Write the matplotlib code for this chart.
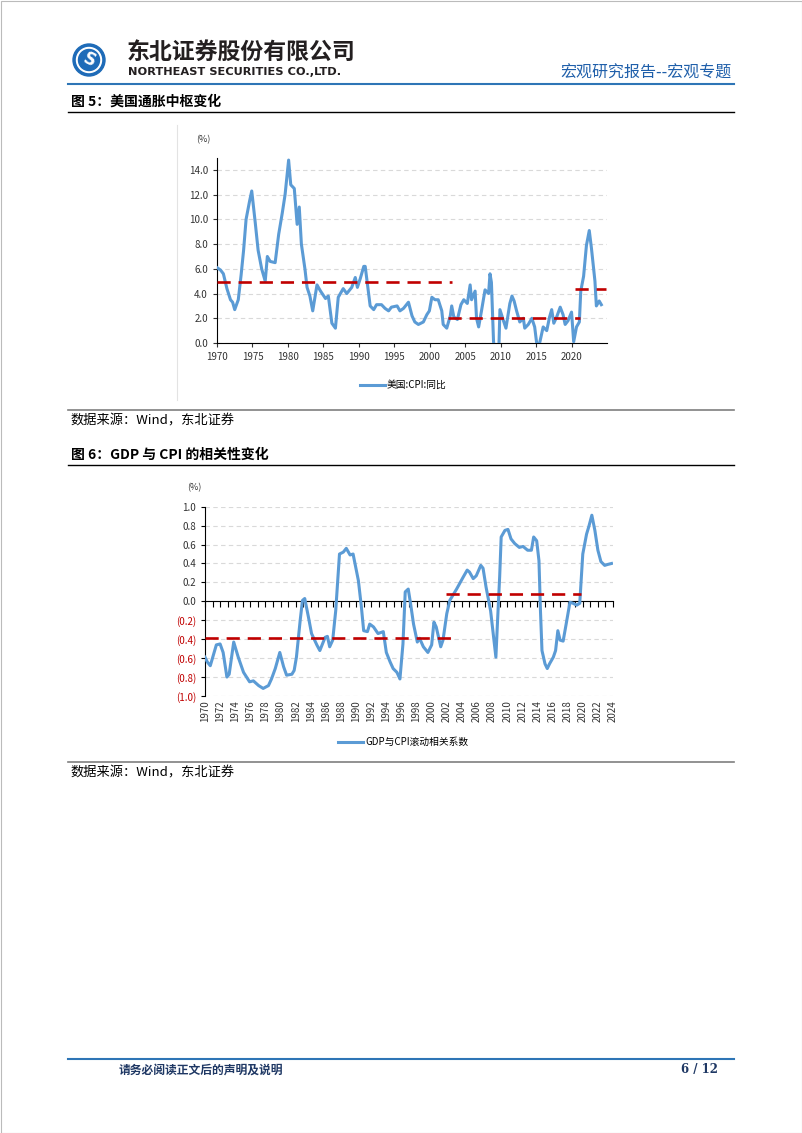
import numpy as np
import matplotlib
matplotlib.use("Agg")
import matplotlib.pyplot as plt
from matplotlib.patches import Circle, Rectangle

plt.rcParams['font.family'] = ['Noto Sans CJK SC', 'DejaVu Sans']

BLUE = '#5B9BD5'
RED = '#C00000'
GRID = '#D9D9D9'

# ---- chart 1: US CPI yoy (%)
cpi_year = [1970.0, 1970.5, 1970.9, 1971.4, 1971.9, 1972.2, 1972.5, 1973.0, 1973.4, 1973.75,
            1974.1, 1974.6, 1974.9, 1975.4, 1975.8, 1976.3, 1976.8, 1977.1, 1977.5, 1978.2,
            1978.7, 1979.2, 1979.6, 1980.1, 1980.4, 1980.9, 1981.3, 1981.6, 1981.9, 1982.2,
            1982.4, 1982.7, 1983.1, 1983.5, 1984.1, 1984.6, 1985.3, 1985.7, 1986.2, 1986.7,
            1987.1, 1987.8, 1988.3, 1989.0, 1989.5, 1989.8, 1990.2, 1990.7, 1990.9, 1991.2,
            1991.6, 1992.1, 1992.5, 1993.2, 1993.7, 1994.2, 1994.6, 1995.4, 1995.8, 1996.3,
            1997.0, 1997.5, 1997.9, 1998.4, 1999.1, 1999.6, 1999.95, 2000.3, 2000.75, 2001.2,
            2001.7, 2001.9, 2002.4, 2002.9, 2003.1, 2003.4, 2003.9, 2004.4, 2004.8, 2005.3,
            2005.7, 2005.9, 2006.4, 2006.6, 2006.9, 2007.3, 2007.8, 2008.3, 2008.5, 2008.7,
            2009.0, 2009.3, 2009.7, 2009.9, 2010.4, 2010.75, 2011.3, 2011.6, 2011.9, 2012.25,
            2012.7, 2013.2, 2013.4, 2013.9, 2014.4, 2014.8, 2015.1, 2015.5, 2016.0, 2016.5,
            2016.9, 2017.2, 2017.5, 2017.9, 2018.4, 2018.8, 2019.1, 2019.5, 2020.0, 2020.3,
            2020.7, 2021.1, 2021.3, 2021.7, 2022.1, 2022.5, 2022.8, 2023.3, 2023.5, 2023.9,
            2024.2]
cpi_val = [6.1, 5.9, 5.6, 4.4, 3.5, 3.3, 2.7, 3.5, 5.5, 7.5,
           10.0, 11.5, 12.3, 9.7, 7.5, 6.0, 5.0, 7.0, 6.6, 6.5,
           8.8, 10.5, 12.0, 14.8, 12.8, 12.5, 9.6, 11.0, 8.0, 6.8,
           6.0, 4.5, 3.8, 2.6, 4.7, 4.2, 3.6, 3.8, 1.6, 1.2,
           3.7, 4.4, 4.0, 4.5, 5.3, 4.5, 5.2, 6.2, 6.2, 4.8,
           3.0, 2.7, 3.1, 3.1, 2.8, 2.6, 2.9, 3.0, 2.6, 2.8,
           3.3, 2.2, 1.7, 1.5, 1.7, 2.3, 2.6, 3.7, 3.5, 3.5,
           2.6, 1.5, 1.2, 2.2, 3.0, 2.1, 1.9, 3.1, 3.5, 3.2,
           4.7, 3.5, 4.2, 2.0, 1.3, 2.6, 4.3, 4.0, 5.6, 4.9,
           0.1, -1.3, -1.5, 2.7, 1.8, 1.2, 3.2, 3.8, 3.4, 2.6,
           1.7, 2.0, 1.2, 1.5, 2.0, 1.3, -0.1, 0.0, 1.3, 1.0,
           2.1, 2.7, 1.6, 2.1, 2.9, 2.3, 1.5, 1.8, 2.5, 0.1,
           1.3, 1.7, 4.2, 5.4, 7.9, 9.1, 7.7, 5.0, 3.0, 3.4,
           3.1]
# inflation centre levels: start, end, value
cpi_mid_start = [1970.0, 2002.6, 2020.5]
cpi_mid_end = [2003.1, 2021.2, 2024.9]
cpi_mid_val = [4.9, 2.05, 4.35]

# ---- chart 2: rolling correlation GDP vs CPI
corr_year = [1970.0, 1970.3, 1970.7, 1971.5, 1972.0, 1972.4, 1972.9, 1973.2, 1973.8, 1974.4,
             1975.1, 1975.9, 1976.4, 1977.1, 1977.7, 1978.4, 1978.8, 1979.3, 1979.9, 1980.4,
             1980.8, 1981.5, 1981.8, 1982.1, 1982.6, 1982.9, 1983.2, 1983.7, 1984.1, 1984.8,
             1985.2, 1985.9, 1986.2, 1986.5, 1986.9, 1987.3, 1987.6, 1987.8, 1988.3, 1988.7,
             1989.2, 1989.6, 1990.3, 1990.7, 1991.0, 1991.5, 1991.8, 1992.3, 1992.9, 1993.6,
             1994.0, 1994.5, 1994.9, 1995.4, 1995.8, 1996.2, 1996.5, 1996.9, 1997.2, 1997.6,
             1998.1, 1998.4, 1998.9, 1999.5, 2000.0, 2000.3, 2000.6, 2001.2, 2001.5, 2002.0,
             2002.4, 2003.3, 2004.2, 2004.7, 2005.0, 2005.5, 2005.9, 2006.5, 2006.8, 2007.2,
             2007.8, 2008.1, 2008.5, 2008.7, 2009.0, 2009.2, 2009.7, 2010.1, 2010.5, 2011.0,
             2011.6, 2012.1, 2012.7, 2013.2, 2013.5, 2013.9, 2014.2, 2014.4, 2014.6, 2015.0,
             2015.3, 2015.6, 2016.1, 2016.4, 2016.7, 2017.0, 2017.4, 2017.8, 2018.3, 2018.7,
             2019.2, 2019.6, 2020.0, 2020.5, 2020.8, 2021.2, 2021.6, 2022.0, 2022.4, 2022.9,
             2023.3, 2023.8]
corr_val = [-0.59, -0.64, -0.68, -0.46, -0.45, -0.54, -0.80, -0.77, -0.43, -0.59,
            -0.75, -0.85, -0.84, -0.89, -0.92, -0.89, -0.82, -0.71, -0.54, -0.69,
            -0.78, -0.77, -0.73, -0.59, -0.20, 0.01, 0.03, -0.17, -0.34, -0.46,
            -0.52, -0.38, -0.37, -0.48, -0.41, -0.10, 0.26, 0.50, 0.52, 0.56,
            0.49, 0.50, 0.22, -0.06, -0.31, -0.32, -0.24, -0.27, -0.34, -0.32,
            -0.54, -0.64, -0.71, -0.75, -0.82, -0.45, 0.10, 0.13, -0.02, -0.24,
            -0.43, -0.39, -0.48, -0.54, -0.46, -0.22, -0.27, -0.48, -0.41, -0.13,
            0.01, 0.13, 0.26, 0.33, 0.31, 0.24, 0.27, 0.38, 0.35, 0.15,
            -0.10, -0.31, -0.59, -0.24, 0.26, 0.68, 0.75, 0.76, 0.66, 0.61,
            0.57, 0.58, 0.54, 0.54, 0.68, 0.64, 0.43, -0.10, -0.52, -0.66,
            -0.71, -0.66, -0.59, -0.52, -0.31, -0.41, -0.42, -0.24, -0.01, -0.02,
            -0.04, -0.02, 0.50, 0.71, 0.79, 0.91, 0.75, 0.54, 0.42, 0.38,
            0.39, 0.40]
corr_mid_start = [1970.0, 2001.9]
corr_mid_end = [2003.2, 2019.7]
corr_mid_val = [-0.39, 0.08]

W, H = 802, 1133
fig = plt.figure(figsize=(W / 100, H / 100), dpi=100)


def box(l, t, r, b):
    return [l / W, 1 - b / H, (r - l) / W, (b - t) / H]


# page layer in pixel coords
page = fig.add_axes([0, 0, 1, 1])
page.set_xlim(0, W)
page.set_ylim(H, 0)
page.axis('off')
page.add_patch(Rectangle((0.5, 0.5), W - 1, H - 1, fill=False, ec='#BBBBBB', lw=0.8))

# logo
page.add_patch(Circle((89, 60), 16, color='#1E6BB8'))
page.add_patch(Circle((89, 60), 12.5, color='white'))
page.add_patch(Circle((89, 60), 10.5, color='#1E6BB8'))
page.text(89, 60, 'S', color='white', fontsize=12, fontweight='bold', ha='center', va='center',
          rotation=-25, family='DejaVu Sans')
page.text(127, 52, '东北证券股份有限公司', fontsize=16.5, fontweight='bold', color='#231F20',
          ha='left', va='center')
page.text(128, 72, 'NORTHEAST SECURITIES CO.,LTD.', fontsize=8.2, fontweight='bold',
          color='#231F20', ha='left', va='center', family='DejaVu Sans')
page.text(732, 73, '宏观研究报告--宏观专题', fontsize=11.5, color='#1F5FAA', ha='right', va='center')
page.plot([68, 734], [84, 84], color='#2E75B6', lw=1.5)

page.text(71, 102, '图 5：美国通胀中枢变化', fontsize=10, fontweight='bold', va='center')
page.plot([68, 734], [112, 112], color='black', lw=1.0)
page.plot([177, 177], [125, 400], color='#E3E3E3', lw=0.8)
page.plot([68, 734], [410, 410], color='#7F7F7F', lw=1.2)
page.text(70, 421, '数据来源：Wind，东北证券', fontsize=9.5, va='center')

page.text(71, 455, '图 6：GDP 与 CPI 的相关性变化', fontsize=10, fontweight='bold', va='center')
page.plot([68, 734], [465, 465], color='black', lw=1.0)
page.plot([68, 734], [762, 762], color='#7F7F7F', lw=1.2)
page.text(70, 773, '数据来源：Wind，东北证券', fontsize=9.5, va='center')

page.plot([68, 734], [1059, 1059], color='#2E75B6', lw=1.5)
page.text(119, 1070, '请务必阅读正文后的声明及说明', fontsize=8.5, fontweight='bold',
          color='#1F3864', va='center')
page.text(718, 1070, '6 / 12', fontsize=8.5, fontweight='bold', color='#1F3864',
          ha='right', va='center', family='DejaVu Serif')

# ---- chart 1
ax1 = fig.add_axes(box(217, 157.6, 607, 343))
ax1.plot(cpi_year, cpi_val, color=BLUE, lw=2.2, label='美国:CPI:同比', zorder=3)
for x0, x1, v in zip(cpi_mid_start, cpi_mid_end, cpi_mid_val):
    ax1.plot([x0, x1], [v, v], color=RED, lw=1.9, ls=(0, (5, 3)), zorder=4)
ax1.set_xlim(1970, 2025)
ax1.set_ylim(0, 15)
yt1 = np.arange(0, 15, 2)
ax1.set_yticks(yt1, [f'{v:.1f}' for v in yt1])
ax1.set_xticks(range(1970, 2021, 5))
ax1.yaxis.grid(True, color=GRID, ls=(0, (4, 3)), lw=0.8)
ax1.set_axisbelow(True)
for s in ['top', 'right']:
    ax1.spines[s].set_visible(False)
for s in ['left', 'bottom']:
    ax1.spines[s].set_linewidth(0.8)
ax1.tick_params(labelsize=7, length=3, width=0.8, colors='#333333')
ax1.legend(loc='center', bbox_to_anchor=(403 / W, 1 - 385 / H), bbox_transform=fig.transFigure,
           frameon=False, fontsize=7, handlelength=2.6, handletextpad=0.2)
page.text(203, 140, '(%)', fontsize=6.5, ha='center', va='center', color='#333333')

# ---- chart 2
ax2 = fig.add_axes(box(205, 506.7, 613, 696))
ax2.plot(corr_year, corr_val, color=BLUE, lw=2.2, label='GDP与CPI滚动相关系数', zorder=3)
for x0, x1, v in zip(corr_mid_start, corr_mid_end, corr_mid_val):
    ax2.plot([x0, x1], [v, v], color=RED, lw=1.9, ls=(0, (5, 3)), zorder=4)
ax2.set_xlim(1970, 2024)
ax2.set_ylim(-1, 1)
yt2 = np.round(np.arange(-1, 1.01, 0.2), 1)
ylab2 = [f'{abs(v):.1f}' if v > -0.05 else f'({-v:.1f})' for v in yt2]
ax2.set_yticks(yt2, ylab2)
for lbl, v in zip(ax2.get_yticklabels(), yt2):
    lbl.set_color(RED if v < -0.05 else '#333333')
ax2.yaxis.grid(True, color=GRID, ls=(0, (4, 3)), lw=0.8)
ax2.set_axisbelow(True)
for s in ['top', 'right']:
    ax2.spines[s].set_visible(False)
ax2.spines['bottom'].set_position(('data', 0))
ax2.spines['bottom'].set_linewidth(0.8)
ax2.spines['left'].set_linewidth(0.8)
ax2.set_xticks(range(1970, 2025))
ax2.tick_params(axis='x', labelbottom=False, length=4, width=0.8)
ax2.tick_params(axis='y', labelsize=7, length=3, width=0.8)
sec = ax2.secondary_xaxis('bottom')
sec.set_xticks(range(1970, 2025, 2), [str(y) for y in range(1970, 2025, 2)])
sec.tick_params(length=0, pad=3, labelsize=7, labelrotation=90, colors='#333333')
sec.spines['bottom'].set_visible(False)
ax2.legend(loc='center', bbox_to_anchor=(403 / W, 1 - 742 / H), bbox_transform=fig.transFigure,
           frameon=False, fontsize=7, handlelength=2.6, handletextpad=0.2)
page.text(194, 488, '(%)', fontsize=6.5, ha='center', va='center', color='#333333')

fig.savefig('out.png', dpi=100)
